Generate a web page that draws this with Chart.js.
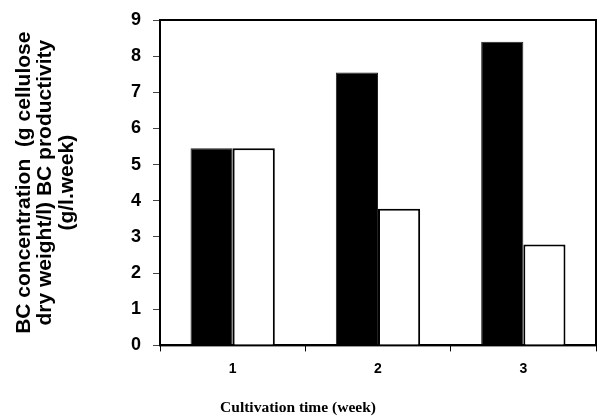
<!DOCTYPE html>
<html>
<head>
<meta charset="utf-8">
<script src="https://cdn.jsdelivr.net/npm/chart.js@4.4.0/dist/chart.umd.min.js"></script>
<style>
  html, body { margin: 0; padding: 0; background: #fff; }
  #wrap { width: 597px; height: 417px; }
</style>
</head>
<body>
<div id="wrap"><canvas id="bcChart"></canvas></div>
<script>
// values
const weeks = ["1", "2", "3"];
const bcConcentration = [5.45, 7.55, 8.4];
const bcProductivity = [5.45, 3.78, 2.79];
const yTicks = [0, 1, 2, 3, 4, 5, 6, 7, 8, 9];

// black box round the plot area
const frame = {
  id: "frame",
  afterDatasetsDraw(chart) {
    const a = chart.chartArea;
    const ctx = chart.ctx;
    ctx.save();
    ctx.strokeStyle = "#000";
    ctx.lineWidth = 2;
    ctx.strokeRect(a.left, a.top, a.right - a.left, a.bottom - a.top);
    ctx.restore();
  }
};

const ctx = document.getElementById("bcChart");
new Chart(ctx, {
  type: "bar",
  data: {
    labels: weeks,
    datasets: [
      {
        label: "BC concentration",
        data: bcConcentration,
        backgroundColor: "#000",
        borderColor: "#222",
        borderWidth: 1
      },
      {
        label: "BC productivity",
        data: bcProductivity,
        backgroundColor: "#fff",
        borderColor: "#000",
        borderWidth: 2
      }
    ]
  },
  options: {
    responsive: true,
    maintainAspectRatio: false,
    animation: false,
    layout: { padding: { top: 20, right: 1, left: 0, bottom: 0 } },
    datasets: { bar: { categoryPercentage: 0.58, barPercentage: 1 } },
    plugins: {
      legend: { display: false },
      tooltip: { enabled: false },
      title: {
        display: true,
        position: "bottom",
        text: "Cultivation time (week)",
        color: "#000",
        font: { family: "Liberation Serif", size: 15.5, weight: "bold", lineHeight: 1.2 },
        padding: { top: 0, bottom: 0 }
      }
    },
    scales: {
      x: {
        grid: { display: true, drawOnChartArea: false, offset: true, color: "#000", tickLength: 6, lineWidth: 1 },
        border: { display: true, color: "#000", width: 2 },
        ticks: {
          color: "#000",
          padding: 9,
          font: { family: "Liberation Sans", size: 14, weight: "bold" }
        },
        afterFit(scale) { scale.height = 53; }
      },
      y: {
        min: 0,
        max: 9,
        afterBuildTicks(scale) { scale.ticks = yTicks.map(v => ({ value: v })); },
        grid: { display: true, drawOnChartArea: false, color: "#444", tickLength: 7 },
        border: { display: true, color: "#000", width: 2 },
        ticks: {
          color: "#000",
          padding: 12,
          font: { family: "Liberation Sans", size: 18, weight: "bold" }
        },
        title: {
          display: true,
          text: ["BC concentration  (g cellulose", "dry weight/l) BC productivity", "(g/l.week)"],
          color: "#000",
          font: { family: "Liberation Sans", size: 21, weight: "bold", lineHeight: 1.03 },
          padding: { top: 13, bottom: 0 }
        },
        afterFit(scale) {
          scale.width = 160;
          scale.paddingTop = 0;
          scale.paddingBottom = 0;
        }
      }
    }
  },
  plugins: [frame]
});
</script>
</body>
</html>
